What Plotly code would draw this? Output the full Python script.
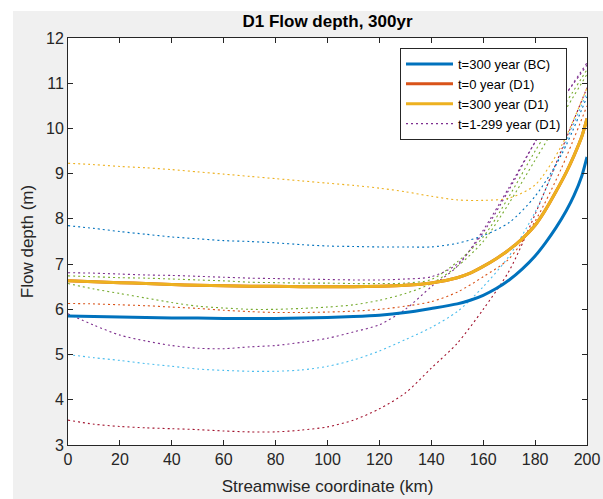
import plotly.graph_objects as go

# ---------------- data ----------------
x_km = [0, 10, 20, 30, 40, 50, 60, 70, 80, 90, 100, 110, 120, 130, 140, 150, 160, 170, 180, 190, 200]
x_fine = [0, 10, 20, 30, 40, 50, 60, 70, 80, 90, 100, 110, 120, 130, 140, 150,
          155, 160, 165, 170, 175, 180, 184, 188, 192, 195, 198, 200]

depth_bc_t300 = [5.85, 5.84, 5.83, 5.82, 5.81, 5.81, 5.80, 5.80, 5.80, 5.81, 5.82, 5.84, 5.87, 5.93, 6.02, 6.12,
                 6.20, 6.31, 6.46, 6.65, 6.89, 7.18, 7.47, 7.80, 8.18, 8.52, 8.95, 9.37]
depth_d1_t0 = [6.63, 6.61, 6.59, 6.57, 6.55, 6.53, 6.52, 6.51, 6.51, 6.50, 6.50, 6.50, 6.51, 6.53, 6.58, 6.70,
               6.80, 6.95, 7.12, 7.32, 7.56, 7.86, 8.20, 8.60, 9.03, 9.40, 9.82, 10.22]
depth_d1_t300 = [6.63, 6.61, 6.59, 6.57, 6.55, 6.53, 6.52, 6.51, 6.51, 6.50, 6.50, 6.50, 6.51, 6.53, 6.58, 6.70,
                 6.80, 6.95, 7.12, 7.32, 7.56, 7.86, 8.20, 8.60, 9.03, 9.40, 9.82, 10.22]

# intermediate years (dotted)
depth_mid_1 = [5.90, 5.65, 5.43, 5.30, 5.20, 5.14, 5.13, 5.17, 5.20, 5.27, 5.36, 5.50, 5.66, 6.00, 6.50, 6.95, 7.75, 8.70, 9.70, 10.60, 11.40]
depth_mid_2 = [6.57, 6.45, 6.35, 6.25, 6.15, 6.07, 6.03, 6.00, 6.00, 6.02, 6.05, 6.10, 6.20, 6.35, 6.57, 6.95, 7.50, 8.35, 9.30, 10.25, 11.20]
depth_mid_3 = [5.00, 4.93, 4.87, 4.80, 4.74, 4.68, 4.65, 4.63, 4.63, 4.66, 4.74, 4.88, 5.08, 5.33, 5.60, 5.95, 6.50, 7.18, 8.15, 9.45, 10.80]
depth_mid_4 = [3.55, 3.46, 3.41, 3.38, 3.36, 3.34, 3.31, 3.29, 3.29, 3.33, 3.40, 3.55, 3.80, 4.15, 4.70, 5.25, 6.00, 6.85, 8.10, 9.50, 10.90]
depth_mid_5 = [7.85, 7.79, 7.72, 7.66, 7.60, 7.56, 7.52, 7.50, 7.47, 7.43, 7.40, 7.39, 7.38, 7.38, 7.38, 7.46, 7.63, 7.92, 8.50, 9.40, 10.70]
depth_mid_6 = [6.13, 6.12, 6.10, 6.08, 6.05, 6.02, 5.98, 5.95, 5.93, 5.93, 5.94, 5.96, 6.00, 6.07, 6.17, 6.38, 6.72, 7.12, 7.95, 9.10, 10.50]
depth_mid_7 = [9.23, 9.20, 9.16, 9.13, 9.09, 9.04, 8.99, 8.94, 8.89, 8.84, 8.79, 8.74, 8.68, 8.60, 8.50, 8.42, 8.41, 8.46, 8.75, 9.60, 10.90]
depth_mid_8 = [6.81, 6.80, 6.78, 6.76, 6.75, 6.73, 6.71, 6.69, 6.68, 6.67, 6.66, 6.65, 6.65, 6.67, 6.72, 7.00, 7.70, 8.65, 9.70, 10.60, 11.45]
depth_mid_9 = [6.74, 6.72, 6.70, 6.69, 6.67, 6.65, 6.63, 6.60, 6.59, 6.58, 6.58, 6.57, 6.57, 6.58, 6.66, 7.05, 7.60, 8.50, 9.50, 10.40, 11.30]

mid_series = [depth_mid_1, depth_mid_2, depth_mid_3, depth_mid_4, depth_mid_5,
              depth_mid_6, depth_mid_7, depth_mid_8, depth_mid_9]

x_ticks = [0, 20, 40, 60, 80, 100, 120, 140, 160, 180, 200]
y_ticks = [3, 4, 5, 6, 7, 8, 9, 10, 11, 12]

# MATLAB default colour order
c_blue, c_orange, c_yellow = "#0072BD", "#D95319", "#EDB120"
c_purple, c_green, c_lblue, c_red = "#7E2F8E", "#77AC30", "#4DBEEE", "#A2142F"
dotted_colors = [c_purple, c_green, c_lblue, c_red, c_blue, c_orange, c_yellow, c_purple, c_green]

FONT = "Liberation Sans, Arial, Helvetica, sans-serif"
AX = "#262626"

fig = go.Figure()

for i, (ys, col) in enumerate(zip(mid_series, dotted_colors)):
    fig.add_trace(go.Scatter(
        x=x_km, y=ys, mode="lines",
        line=dict(color=col, width=1.1, dash="2px,3px", shape="spline", smoothing=0.8),
        name="t=1-299 year (D1)", showlegend=(i == 0), legendrank=4))

fig.add_trace(go.Scatter(x=x_fine, y=depth_bc_t300, mode="lines", name="t=300 year (BC)",
                         line=dict(color=c_blue, width=3, shape="spline", smoothing=0.7), legendrank=1))
fig.add_trace(go.Scatter(x=x_fine, y=depth_d1_t0, mode="lines", name="t=0 year (D1)",
                         line=dict(color=c_orange, width=3, shape="spline", smoothing=0.7), legendrank=2))
fig.add_trace(go.Scatter(x=x_fine, y=depth_d1_t300, mode="lines", name="t=300 year (D1)",
                         line=dict(color=c_yellow, width=3, shape="spline", smoothing=0.7), legendrank=3))

W, H = 603, 499
ml, mr, mt, mb = 68, 16, 38, 54
pw, ph = W - ml - mr, H - mt - mb

fig.update_layout(
    width=W, height=H,
    margin=dict(l=ml, r=mr, t=mt, b=mb, pad=0, autoexpand=False),
    paper_bgcolor="#f0f0f0", plot_bgcolor="white",
    font=dict(family=FONT, size=16, color=AX),
    title=dict(text="<b>D1 Flow depth, 300yr</b>", x=(ml + pw / 2) / W, xanchor="center",
               y=1 - 21 / H, yanchor="middle", font=dict(size=17, color="black")),
    showlegend=True,
    legend=dict(x=(400 - ml) / pw, y=(H - mb - 48) / ph, xanchor="left", yanchor="top",
                bgcolor="white", bordercolor=AX, borderwidth=1,
                font=dict(size=13, color="black"), itemwidth=47,
                tracegroupgap=0, traceorder="normal"),
    shapes=[
        dict(type="rect", xref="paper", yref="paper", x0=-ml / pw, x1=(13 - ml) / pw,
             y0=-mb / ph, y1=1 + mt / ph, fillcolor="white", line=dict(width=0), layer="below"),
        dict(type="rect", xref="paper", yref="paper", x0=-ml / pw, x1=1 + mr / pw,
             y0=1 + (mt - 11) / ph, y1=1 + mt / ph, fillcolor="white", line=dict(width=0), layer="below"),
    ],
)

fig.update_xaxes(
    range=[0, 200], tickvals=x_ticks, ticktext=[str(v) for v in x_ticks],
    ticks="inside", ticklen=5, tickcolor=AX, tickwidth=1,
    showline=True, linecolor=AX, linewidth=1, mirror="ticks",
    showgrid=False, zeroline=False, automargin=False,
    title=dict(text="Streamwise coordinate (km)", font=dict(size=17, color=AX), standoff=12),
    tickfont=dict(size=16, color=AX),
)
fig.update_yaxes(
    range=[3, 12], tickvals=y_ticks, ticktext=[str(v) for v in y_ticks],
    ticks="inside", ticklen=5, tickcolor=AX, tickwidth=1,
    showline=True, linecolor=AX, linewidth=1, mirror="ticks",
    showgrid=False, zeroline=False, automargin=False,
    title=dict(text="Flow depth (m)", font=dict(size=17, color=AX), standoff=8),
    tickfont=dict(size=16, color=AX),
)

fig.write_html("out.html",
               config={"displayModeBar": False},
               post_script="document.body.style.margin='0';document.body.style.overflow='hidden';")
